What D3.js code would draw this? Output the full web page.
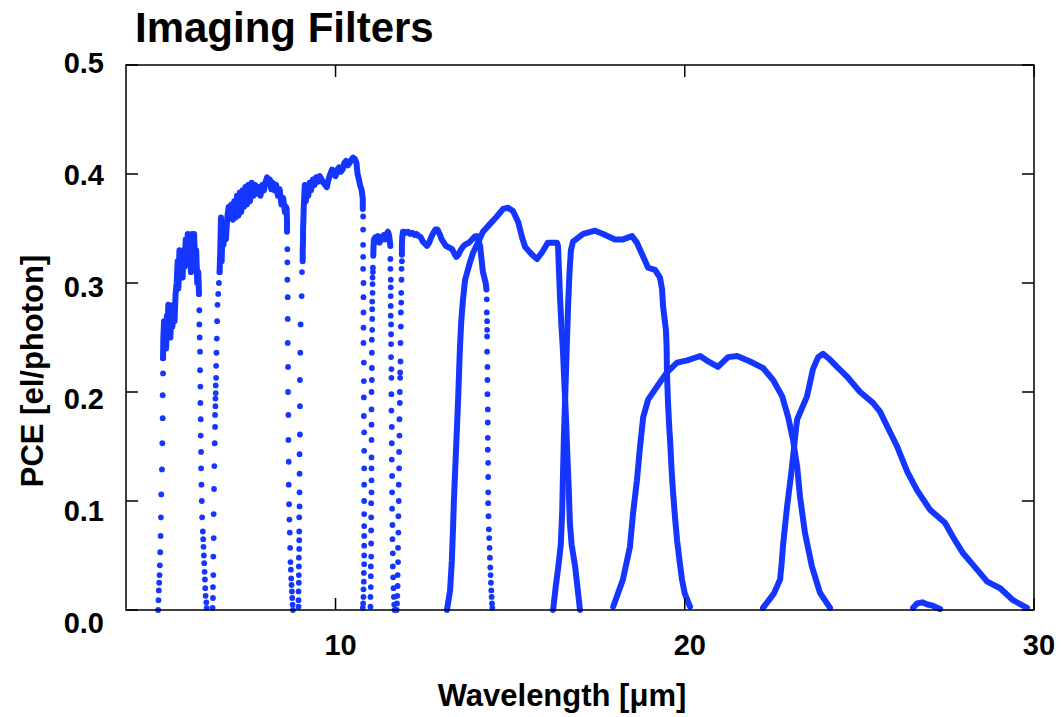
<!DOCTYPE html>
<html>
<head>
<meta charset="utf-8">
<script src="https://cdn.jsdelivr.net/npm/d3@7"></script>
<style>
body { margin: 0; background: #fff; }
text { font-family: "Liberation Sans", Arial, sans-serif; font-weight: bold; fill: #000; }
</style>
</head>
<body>
<script>
// filter curves, [wavelength um, PCE]
// the five short-wave filters: steep edges are sparse samples, tops are dense
var f560wRise = [[4.92,0],[4.93,0.009],[4.94,0.018],[4.95,0.025],[4.96,0.032],[4.97,0.041],[4.98,0.053],[4.99,0.068],[5.0,0.085],[5.01,0.106],[5.03,0.129],[5.04,0.153],[5.05,0.176],[5.05,0.197],[5.06,0.217],[5.06,0.231]];
var f560wTop = [[5.06,0.231],[5.07,0.25],[5.09,0.265],[5.11,0.245],[5.13,0.26],[5.15,0.24],[5.17,0.27],[5.19,0.25],[5.21,0.28],[5.23,0.255],[5.25,0.275],[5.27,0.25],[5.3,0.27],[5.33,0.26],[5.36,0.28],[5.39,0.265],[5.42,0.29],[5.45,0.3],[5.48,0.32],[5.5,0.295],[5.53,0.33],[5.56,0.31],[5.59,0.325],[5.62,0.305],[5.65,0.33],[5.68,0.315],[5.71,0.34],[5.74,0.32],[5.77,0.345],[5.8,0.325],[5.83,0.34],[5.86,0.31],[5.89,0.345],[5.92,0.32],[5.95,0.345],[5.98,0.315],[6.01,0.33],[6.04,0.3],[6.07,0.31],[6.09,0.29]];
var f560wFall = [[6.09,0.29],[6.1,0.275],[6.1,0.262],[6.11,0.25],[6.12,0.237],[6.12,0.22],[6.13,0.205],[6.13,0.19],[6.14,0.175],[6.14,0.16],[6.15,0.145],[6.15,0.13],[6.16,0.115],[6.17,0.1],[6.18,0.085],[6.2,0.072],[6.21,0.065],[6.22,0.058],[6.23,0.05],[6.24,0.043],[6.25,0.035],[6.26,0.028],[6.27,0.02],[6.28,0.013],[6.3,0.007],[6.31,0.002]];

var f770wRise = [[6.48,0.002],[6.49,0.011],[6.49,0.021],[6.5,0.032],[6.5,0.049],[6.51,0.066],[6.51,0.088],[6.52,0.111],[6.53,0.132],[6.54,0.153],[6.55,0.168],[6.55,0.179],[6.56,0.187],[6.56,0.194],[6.57,0.199],[6.57,0.206],[6.58,0.213],[6.58,0.224],[6.59,0.236],[6.6,0.249],[6.61,0.265],[6.62,0.28],[6.64,0.29],[6.66,0.3],[6.68,0.31]];
var f770wTop = [[6.68,0.31],[6.7,0.33],[6.72,0.36],[6.74,0.32],[6.76,0.35],[6.79,0.335],[6.82,0.355],[6.86,0.34],[6.9,0.36],[6.94,0.37],[6.98,0.36],[7.02,0.372],[7.06,0.358],[7.1,0.375],[7.14,0.36],[7.18,0.38],[7.22,0.362],[7.26,0.383],[7.3,0.365],[7.34,0.385],[7.38,0.37],[7.42,0.388],[7.46,0.372],[7.5,0.39],[7.55,0.375],[7.6,0.392],[7.65,0.38],[7.7,0.39],[7.75,0.382],[7.8,0.388],[7.85,0.38],[7.9,0.39],[7.95,0.385],[8.0,0.393],[8.04,0.397],[8.08,0.392],[8.12,0.395],[8.16,0.386],[8.2,0.392],[8.25,0.385],[8.3,0.39],[8.35,0.38],[8.4,0.386],[8.45,0.372],[8.5,0.378],[8.55,0.365],[8.58,0.37],[8.6,0.368],[8.61,0.358],[8.61,0.347]];
var f770wFall = [[8.62,0.331],[8.62,0.319],[8.62,0.303],[8.63,0.287],[8.63,0.267],[8.63,0.245],[8.64,0.223],[8.64,0.2],[8.65,0.179],[8.65,0.156],[8.66,0.136],[8.66,0.115],[8.67,0.097],[8.68,0.083],[8.69,0.071],[8.7,0.057],[8.71,0.044],[8.72,0.037],[8.73,0.029],[8.74,0.023],[8.75,0.017],[8.76,0.011],[8.77,0.005],[8.78,0]];

var f1000wRise = [[8.94,0.003],[8.94,0.009],[8.94,0.017],[8.95,0.025],[8.95,0.032],[8.95,0.04],[8.95,0.048],[8.96,0.056],[8.96,0.064],[8.96,0.072],[8.96,0.085],[8.97,0.095],[8.97,0.108],[8.97,0.125],[8.97,0.143],[8.98,0.161],[8.98,0.187],[8.98,0.211],[8.99,0.236],[9.0,0.262],[9.03,0.288],[9.04,0.31]];
var f1000wTop = [[9.06,0.32],[9.06,0.33],[9.07,0.34],[9.07,0.35],[9.08,0.358],[9.09,0.37],[9.12,0.39],[9.15,0.375],[9.18,0.385],[9.22,0.38],[9.26,0.392],[9.3,0.385],[9.35,0.395],[9.4,0.39],[9.45,0.397],[9.5,0.393],[9.55,0.398],[9.6,0.395],[9.65,0.392],[9.7,0.39],[9.75,0.388],[9.8,0.395],[9.85,0.4],[9.9,0.404],[9.95,0.4],[10.0,0.398],[10.05,0.404],[10.1,0.406],[10.15,0.402],[10.2,0.404],[10.25,0.41],[10.3,0.412],[10.35,0.408],[10.4,0.41],[10.45,0.413],[10.5,0.415],[10.55,0.414],[10.6,0.41],[10.63,0.4],[10.67,0.395],[10.7,0.39],[10.75,0.385],[10.78,0.377],[10.78,0.368]];
var f1000wFall = [[10.79,0.361],[10.79,0.349],[10.79,0.335],[10.79,0.324],[10.79,0.313],[10.8,0.3],[10.8,0.287],[10.8,0.273],[10.8,0.259],[10.8,0.245],[10.81,0.227],[10.81,0.21],[10.81,0.195],[10.81,0.178],[10.82,0.163],[10.82,0.146],[10.82,0.13],[10.82,0.115],[10.82,0.1],[10.82,0.088],[10.82,0.077],[10.82,0.068],[10.82,0.059],[10.82,0.05],[10.82,0.042],[10.81,0.034],[10.81,0.026],[10.8,0.019],[10.8,0.012],[10.79,0.006],[10.78,0.002]];

var f1130wRise = [[11.0,0.003],[11.0,0.012],[11.01,0.021],[11.01,0.031],[11.01,0.04],[11.02,0.049],[11.02,0.061],[11.02,0.073],[11.02,0.085],[11.02,0.098],[11.03,0.108],[11.03,0.119],[11.03,0.13],[11.03,0.14],[11.03,0.156],[11.03,0.17],[11.03,0.184],[11.03,0.2],[11.04,0.211],[11.04,0.222],[11.04,0.236],[11.04,0.248],[11.05,0.257],[11.05,0.267],[11.05,0.276],[11.05,0.283],[11.06,0.291],[11.06,0.299],[11.06,0.305],[11.07,0.31],[11.07,0.314]];
var f1130wTop = [[11.08,0.325],[11.09,0.335],[11.1,0.34],[11.14,0.342],[11.18,0.338],[11.22,0.343],[11.26,0.337],[11.3,0.342],[11.34,0.34],[11.38,0.344],[11.42,0.34],[11.46,0.345],[11.5,0.347],[11.53,0.344],[11.55,0.34],[11.57,0.334]];
var f1130wFall = [[11.57,0.322],[11.57,0.313],[11.58,0.303],[11.58,0.296],[11.58,0.288],[11.58,0.279],[11.58,0.27],[11.59,0.262],[11.59,0.253],[11.59,0.244],[11.59,0.232],[11.6,0.221],[11.6,0.213],[11.6,0.198],[11.6,0.183],[11.61,0.168],[11.61,0.153],[11.61,0.138],[11.62,0.123],[11.62,0.108],[11.62,0.093],[11.63,0.078],[11.63,0.065],[11.64,0.052],[11.64,0.04],[11.65,0.03],[11.66,0.02],[11.67,0.012],[11.68,0.005],[11.69,0]];

var f1280wRise = [[11.75,0],[11.76,0.006],[11.77,0.013],[11.78,0.022],[11.78,0.032],[11.79,0.044],[11.79,0.057],[11.8,0.071],[11.8,0.086],[11.81,0.1],[11.81,0.115],[11.82,0.13],[11.82,0.145],[11.83,0.16],[11.83,0.175],[11.84,0.19],[11.84,0.2],[11.85,0.213],[11.85,0.218],[11.86,0.228],[11.86,0.245],[11.87,0.26],[11.87,0.273],[11.88,0.282],[11.88,0.291],[11.89,0.303],[11.89,0.313],[11.9,0.32]];
var f1280wTop = [[11.9,0.326],[11.9,0.331],[11.9,0.335],[11.91,0.342],[11.93,0.347],[11.96,0.347],[12.02,0.346],[12.08,0.347],[12.14,0.345],[12.2,0.346],[12.26,0.344],[12.32,0.345],[12.38,0.343],[12.44,0.342],[12.5,0.338],[12.56,0.336],[12.62,0.334],[12.68,0.337],[12.74,0.342],[12.8,0.346],[12.86,0.349],[12.92,0.349],[12.98,0.345],[13.04,0.34],[13.1,0.337],[13.16,0.334],[13.22,0.333],[13.28,0.332],[13.34,0.331],[13.4,0.327],[13.46,0.324],[13.52,0.326],[13.58,0.33],[13.64,0.333],[13.7,0.335],[13.76,0.336],[13.82,0.337],[13.88,0.339],[13.94,0.341],[14.0,0.343],[14.06,0.343],[14.1,0.338],[14.14,0.334],[14.17,0.325],[14.19,0.319],[14.22,0.31],[14.26,0.305],[14.3,0.3],[14.32,0.294]];
var f1280wFall = [[14.33,0.285],[14.33,0.273],[14.34,0.265],[14.34,0.257],[14.34,0.251],[14.34,0.237],[14.35,0.223],[14.35,0.211],[14.35,0.198],[14.36,0.184],[14.36,0.172],[14.36,0.158],[14.36,0.147],[14.37,0.135],[14.37,0.122],[14.37,0.108],[14.37,0.098],[14.38,0.086],[14.39,0.074],[14.4,0.066],[14.41,0.057],[14.42,0.048],[14.43,0.039],[14.44,0.032],[14.45,0.025],[14.46,0.018],[14.47,0.012],[14.48,0.006],[14.49,0.002]];

// the long-wave filters are densely sampled everywhere
var f1500w = [[13.19,0],[13.28,0.018],[13.33,0.045],[13.36,0.071],[13.39,0.101],[13.45,0.147],[13.51,0.193],[13.56,0.239],[13.6,0.265],[13.65,0.285],[13.71,0.303],[13.85,0.319],[13.94,0.328],[14.08,0.337],[14.22,0.347],[14.42,0.354],[14.62,0.361],[14.8,0.368],[14.94,0.369],[15.08,0.366],[15.23,0.356],[15.34,0.342],[15.43,0.333],[15.63,0.326],[15.77,0.322],[15.91,0.328],[16.08,0.337],[16.34,0.337],[16.37,0.334],[16.4,0.31],[16.43,0.285],[16.47,0.26],[16.51,0.239],[16.55,0.21],[16.6,0.175],[16.64,0.14],[16.68,0.11],[16.71,0.08],[16.76,0.06],[16.86,0.04],[16.93,0.02],[17.0,0]];

var f1800w = [[16.23,0],[16.3,0.02],[16.38,0.04],[16.45,0.06],[16.49,0.09],[16.51,0.12],[16.54,0.16],[16.57,0.19],[16.6,0.22],[16.63,0.25],[16.66,0.28],[16.7,0.31],[16.74,0.33],[16.8,0.338],[17.09,0.345],[17.43,0.348],[17.66,0.345],[18.0,0.34],[18.23,0.34],[18.49,0.343],[18.63,0.337],[18.81,0.324],[18.95,0.314],[19.15,0.312],[19.29,0.305],[19.35,0.294],[19.38,0.278],[19.46,0.257],[19.48,0.242],[19.49,0.218],[19.52,0.19],[19.56,0.165],[19.58,0.156],[19.62,0.13],[19.66,0.11],[19.72,0.085],[19.78,0.064],[19.85,0.045],[19.92,0.028],[20.0,0.015],[20.15,0.003]];

var f2100w = [[17.95,0.003],[18.23,0.028],[18.43,0.058],[18.52,0.089],[18.63,0.119],[18.72,0.15],[18.81,0.177],[18.95,0.193],[19.29,0.209],[19.49,0.218],[19.78,0.227],[20.07,0.229],[20.44,0.233],[20.67,0.228],[20.95,0.223],[21.24,0.232],[21.5,0.233],[21.87,0.228],[22.24,0.222],[22.53,0.211],[22.79,0.196],[22.96,0.177],[23.1,0.156],[23.22,0.131],[23.3,0.104],[23.44,0.071],[23.64,0.04],[23.87,0.016],[24.16,0.002]];

var f2550w = [[22.24,0.002],[22.55,0.015],[22.73,0.028],[22.78,0.045],[22.81,0.058],[22.88,0.08],[22.93,0.095],[23.07,0.131],[23.18,0.165],[23.22,0.175],[23.5,0.196],[23.67,0.221],[23.82,0.232],[23.96,0.235],[24.15,0.23],[24.36,0.223],[24.65,0.214],[25.02,0.2],[25.39,0.19],[25.59,0.182],[25.82,0.167],[26.08,0.15],[26.37,0.127],[26.65,0.11],[27.02,0.092],[27.45,0.08],[27.68,0.067],[27.97,0.052],[28.37,0.037],[28.66,0.026],[29.03,0.02],[29.4,0.009],[29.8,0.002]];

var leak = [[26.54,0.002],[26.65,0.006],[26.8,0.007],[26.95,0.005],[27.1,0.004],[27.31,0.001]];

// dense pieces are traced as a thick line, sparse edges as separate dots
var tracedParts = [f560wTop, f770wTop, f1000wTop, f1130wTop, f1280wTop, f1500w, f1800w, f2100w, f2550w, leak];
var dottedParts = [f560wRise, f560wFall, f770wRise, f770wFall, f1000wRise, f1000wFall, f1130wRise, f1130wFall, f1280wRise, f1280wFall];

var xTicks = [10, 20, 30];
var yTicks = [0, 0.1, 0.2, 0.3, 0.4, 0.5];

var width = 1063, height = 717;
var margin = {top: 65, right: 29, bottom: 107, left: 126};

var svg = d3.select("body").append("svg")
    .attr("width", width)
    .attr("height", height);

var x = d3.scaleLinear().domain([4, 30]).range([margin.left, width - margin.right]);
var y = d3.scaleLinear().domain([0, 0.5]).range([height - margin.bottom, margin.top]);
// the value labels of the original sit on a slightly wider spacing than the ticks
var yLab = d3.scaleLinear().domain([0, 0.5]).range([623, 63]);

var blue = "#1436ff";

var line = d3.line()
    .x(function(d) { return x(d[0]); })
    .y(function(d) { return y(d[1]); });

svg.append("g").attr("class", "traces")
    .selectAll("path")
    .data(tracedParts)
    .enter().append("path")
    .attr("d", line)
    .attr("fill", "none")
    .attr("stroke", blue)
    .attr("stroke-width", 6)
    .attr("stroke-linejoin", "round")
    .attr("stroke-linecap", "round");

svg.append("g").attr("class", "dots")
    .selectAll("circle")
    .data(d3.merge(dottedParts))
    .enter().append("circle")
    .attr("cx", function(d) { return x(d[0]); })
    .attr("cy", function(d) { return y(d[1]); })
    .attr("r", 2.9)
    .attr("fill", blue);

// frame and inward ticks on all sides
var x0 = x.range()[0], x1 = x.range()[1], y0 = y.range()[0], y1 = y.range()[1];
var tickLen = 12;

svg.append("rect")
    .attr("x", x0).attr("y", y1)
    .attr("width", x1 - x0).attr("height", y0 - y1)
    .attr("fill", "none").attr("stroke", "#000").attr("stroke-width", 1.5);

var ticks = svg.append("g").attr("stroke", "#000").attr("stroke-width", 1.5);
xTicks.forEach(function(t) {
    ticks.append("line").attr("x1", x(t)).attr("x2", x(t)).attr("y1", y0).attr("y2", y0 - tickLen);
    ticks.append("line").attr("x1", x(t)).attr("x2", x(t)).attr("y1", y1).attr("y2", y1 + tickLen);
});
yTicks.forEach(function(t) {
    ticks.append("line").attr("x1", x0).attr("x2", x0 + tickLen).attr("y1", y(t)).attr("y2", y(t));
    ticks.append("line").attr("x1", x1).attr("x2", x1 - tickLen).attr("y1", y(t)).attr("y2", y(t));
});

// tick labels
svg.selectAll("text.xlab")
    .data(xTicks)
    .enter().append("text")
    .attr("class", "xlab")
    .attr("x", function(d) { return x(d) + 5; })
    .attr("y", y0 + 45)
    .attr("text-anchor", "middle")
    .style("font-size", "29px")
    .text(function(d) { return d; });

svg.selectAll("text.ylab")
    .data(yTicks)
    .enter().append("text")
    .attr("class", "ylab")
    .attr("x", x0 - 22)
    .attr("y", function(d) { return yLab(d); })
    .attr("dy", ".36em")
    .attr("text-anchor", "end")
    .style("font-size", "29px")
    .text(function(d) { return d.toFixed(1); });

// titles
svg.append("text")
    .attr("x", 135)
    .attr("y", 42)
    .style("font-size", "42px")
    .text("Imaging Filters");

svg.append("text")
    .attr("x", 562)
    .attr("y", 706)
    .attr("text-anchor", "middle")
    .style("font-size", "31px")
    .text("Wavelength [\u03bcm]");

svg.append("text")
    .attr("text-anchor", "middle")
    .attr("transform", "translate(43,371) rotate(-90)")
    .style("font-size", "31px")
    .text("PCE [el/photon]");
</script>
</body>
</html>
